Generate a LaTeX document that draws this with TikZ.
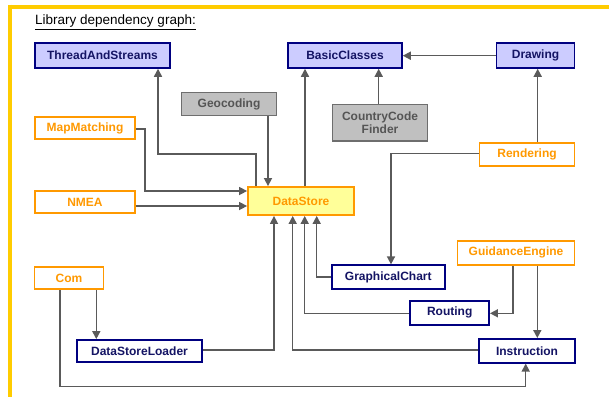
\documentclass[tikz,border=0pt]{standalone}
\usepackage{fontspec}
\setmainfont{Liberation Sans}
\usetikzlibrary{arrows.meta}
\definecolor{framey}{RGB}{255,204,0}
\definecolor{navyb}{RGB}{0,0,128}
\definecolor{navyt}{RGB}{20,20,100}
\definecolor{lav}{RGB}{204,204,255}
\definecolor{orng}{RGB}{255,153,0}
\definecolor{grayf}{RGB}{192,192,192}
\definecolor{grayb}{RGB}{110,110,110}
\definecolor{grayt}{RGB}{85,85,85}
\definecolor{dsfill}{RGB}{255,255,153}
\definecolor{edgec}{RGB}{90,90,90}
\tikzset{
  box/.style={rectangle, inner sep=0pt, font=\fontsize{12}{13.5}\selectfont\bfseries, align=center},
  bluebox/.style={box, draw=navyb, fill=lav, text=navyt, line width=1.5pt},
  navybox/.style={box, draw=navyb, fill=white, text=navyt, line width=1.8pt},
  orangebox/.style={box, draw=orng, fill=white, text=orng, line width=1.8pt},
  graybox/.style={box, draw=grayb, fill=grayf, text=grayt, line width=1.3pt},
  dsbox/.style={box, draw=orng, fill=dsfill, text=orng, line width=1.8pt},
  dep/.style={draw=edgec, line width=1.5pt, -{Triangle[length=8pt,width=8pt]}},
}
\begin{document}
\begin{tikzpicture}[x=1pt,y=-1pt]
\useasboundingbox (0,0) rectangle (609,397);
% frame
\draw[framey, line width=4pt] (8.3,6.7) -- (609,6.7);
\draw[framey, line width=4pt] (10.3,4.7) -- (10.3,397);
% title
\node[anchor=base west, inner sep=0pt, font=\fontsize{13.5}{15}\selectfont] (title) at (35,24.5) {\underline{Library dependency graph:}};
% nodes
\node[bluebox, minimum width=135pt, minimum height=25pt] (tas) at (102.5,55.5) {ThreadAndStreams};
\node[bluebox, minimum width=114pt, minimum height=25pt] (bc) at (345,55.5) {BasicClasses};
\node[bluebox, minimum width=78pt, minimum height=25pt] (drw) at (535.5,55.5) {Drawing};
\node[graybox, minimum width=95pt, minimum height=23pt] (geo) at (229,104) {Geocoding};
\node[graybox, minimum width=95pt, minimum height=36.5pt, font=\fontsize{12}{13.5}\selectfont\bfseries] (ccf) at (380,122.7) {CountryCode\\Finder};
\node[orangebox, minimum width=100pt, minimum height=22.5pt] (mm) at (85,128) {MapMatching};
\node[orangebox, minimum width=95pt, minimum height=23.3pt] (ren) at (527,154.3) {Rendering};
\node[orangebox, minimum width=100pt, minimum height=22.5pt] (nmea) at (85,202) {NMEA};
\node[dsbox, minimum width=106pt, minimum height=28pt] (ds) at (301,201) {DataStore};
\node[orangebox, minimum width=69pt, minimum height=22.7pt] (com) at (69,278) {Com};
\node[navybox, minimum width=125pt, minimum height=22pt] (dsl) at (139.5,351) {DataStoreLoader};
\node[navybox, minimum width=112.7pt, minimum height=24pt] (gc) at (388.3,277.3) {GraphicalChart};
\node[orangebox, minimum width=117pt, minimum height=24.3pt] (ge) at (516,252.8) {GuidanceEngine};
\node[navybox, minimum width=78.7pt, minimum height=24pt] (rt) at (449.7,312.7) {Routing};
\node[navybox, minimum width=95.3pt, minimum height=23.7pt] (ins) at (527,350.8) {Instruction};
% connectors
\draw[dep] (ds.north -| 256,0) |- (158,154) coordinate (c1) -- (tas.south -| c1);
\draw[dep] (geo.south -| 268,0) -- (ds.north -| 268,0);
\draw[dep] (mm.east |- 0,129) -| (145,160) coordinate (c2) |- (ds.west |- 0,191);
\draw[dep] (nmea.east |- 0,206) -- (ds.west |- 0,206);
\draw[dep] (ds.north -| 305,0) -- (bc.south -| 305,0);
\draw[dep] (ccf.north -| 378.7,0) -- (bc.south -| 378.7,0);
\draw[dep] (drw.west |- 0,55.7) -- (bc.east |- 0,55.7);
\draw[dep] (ren.north -| 537.7,0) -- (drw.south -| 537.7,0);
\draw[dep] (ren.west |- 0,153.7) -| (gc.north -| 391,0);
\draw[dep] (gc.west |- 0,277) -| (ds.south -| 316.7,0);
\draw[dep] (rt.west |- 0,313.7) -| (ds.south -| 304.7,0);
\draw[dep] (ge.south -| 513,0) |- (rt.east |- 0,313.3);
\draw[dep] (ge.south -| 537.3,0) -- (ins.north -| 537.3,0);
\draw[dep] (ins.west |- 0,350) -| (ds.south -| 292.7,0);
\draw[dep] (dsl.east |- 0,350) -| (ds.south -| 274,0);
\draw[dep] (com.south -| 96.3,0) -- (dsl.north -| 96.3,0);
\draw[dep] (com.south -| 60,0) |- (300,386.5) coordinate (c3) -| (ins.south -| 525.7,0);
\end{tikzpicture}
\end{document}
